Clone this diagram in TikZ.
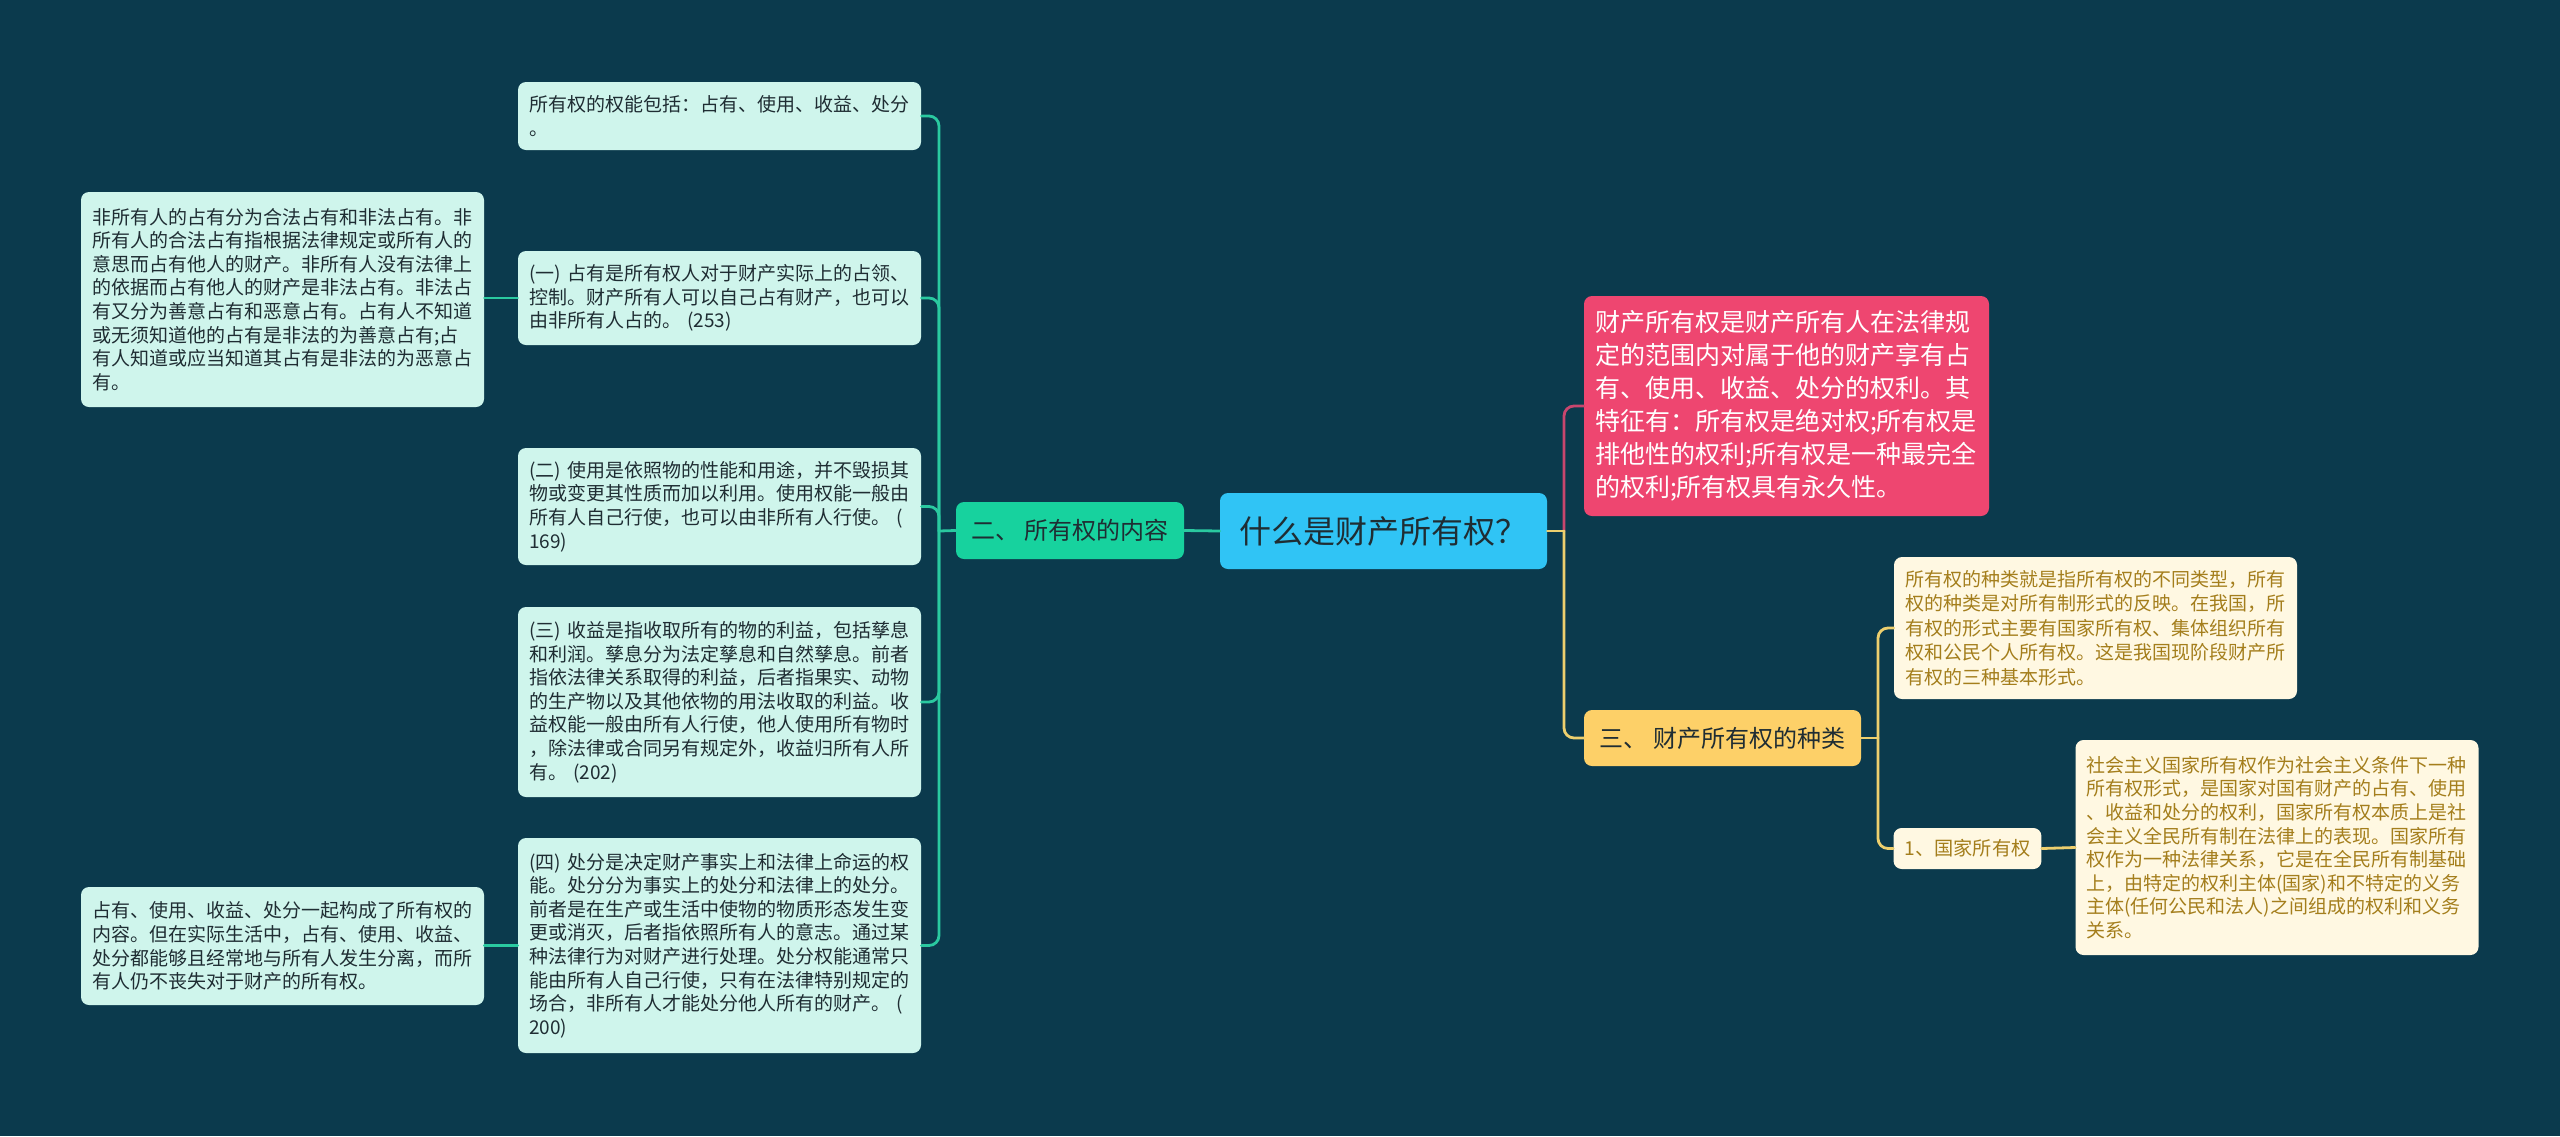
\documentclass[tikz,border=0pt]{standalone}
\usepackage{fontspec}
\setmainfont{Noto Sans CJK SC}
\usepackage{tikz}

\definecolor{bgnavy}{HTML}{0B3A4D}
\definecolor{rootblue}{HTML}{30C4F5}
\definecolor{branchteal}{HTML}{17D29E}
\definecolor{leafmint}{HTML}{CFF5EC}
\definecolor{linkteal}{HTML}{2AC9A0}
\definecolor{rosered}{HTML}{EE4670}
\definecolor{linkrose}{HTML}{C8466E}
\definecolor{branchgold}{HTML}{FDD068}
\definecolor{leafcream}{HTML}{FFF8E2}
\definecolor{linkgold}{HTML}{EDCF6E}
\definecolor{goldtext}{HTML}{A47E1C}
\definecolor{inkdark}{HTML}{1F2D33}

\begin{document}
\begin{tikzpicture}[
    x=0.5pt, y=-0.5pt,
    box/.style={
        rectangle,
        rounded corners=4pt,
        fill=#1,
        inner xsep=5.5pt,
        inner ysep=0pt
    },
    leaf/.style={
        box=#1,
        align=left,
        text width=190.5pt,
        font=\fontsize{9.5}{11.8}\selectfont
    },
    topic/.style={
        box=#1,
        align=center,
        text=inkdark
    },
    link/.style={draw=#1,line width=1.4pt,line cap=round},
    hook/.style={link=#1,rounded corners=5pt}
]

% Background
\fill[bgnavy] (0,0) rectangle (2560,1136);

% Root
\node[topic=rootblue,minimum width=163.5pt,minimum height=38pt,font=\fontsize{16}{19}\selectfont] (root) at (1383.5,531) {什么是财产所有权？};

% Left branch: content of ownership
\node[topic=branchteal,minimum width=114pt,minimum height=28.5pt,font=\fontsize{12}{14}\selectfont] (content) at (1070,530.5) {二、 所有权的内容};

\node[leaf=leafmint,text=inkdark,minimum height=34pt] (powers) at (719.5,116) {所有权的权能包括：占有、使用、收益、处分\\。};
\node[leaf=leafmint,text=inkdark,minimum height=47pt] (possess) at (719.5,298) {(一) 占有是所有权人对于财产实际上的占领、\\控制。财产所有人可以自己占有财产，也可以\\由非所有人占的。 (253)};
\node[leaf=leafmint,text=inkdark,minimum height=58.5pt] (use) at (719.5,506.5) {(二) 使用是依照物的性能和用途，并不毁损其\\物或变更其性质而加以利用。使用权能一般由\\所有人自己行使，也可以由非所有人行使。 (\\169)};
\node[leaf=leafmint,text=inkdark,minimum height=95pt] (yield) at (719.5,702) {(三) 收益是指收取所有的物的利益，包括孳息\\和利润。孳息分为法定孳息和自然孳息。前者\\指依法律关系取得的利益，后者指果实、动物\\的生产物以及其他依物的用法收取的利益。收\\益权能一般由所有人行使，他人使用所有物时\\，除法律或合同另有规定外，收益归所有人所\\有。 (202)};
\node[leaf=leafmint,text=inkdark,minimum height=107.5pt] (dispose) at (719.5,945.5) {(四) 处分是决定财产事实上和法律上命运的权\\能。处分分为事实上的处分和法律上的处分。\\前者是在生产或生活中使物的物质形态发生变\\更或消灭，后者指依照所有人的意志。通过某\\种法律行为对财产进行处理。处分权能通常只\\能由所有人自己行使，只有在法律特别规定的\\场合，非所有人才能处分他人所有的财产。 (\\200)};

\node[leaf=leafmint,text=inkdark,minimum height=107.5pt] (nonowner) at (282.5,299.5) {非所有人的占有分为合法占有和非法占有。非\\所有人的合法占有指根据法律规定或所有人的\\意思而占有他人的财产。非所有人没有法律上\\的依据而占有他人的财产是非法占有。非法占\\有又分为善意占有和恶意占有。占有人不知道\\或无须知道他的占有是非法的为善意占有;占\\有人知道或应当知道其占有是非法的为恶意占\\有。};
\node[leaf=leafmint,text=inkdark,minimum height=59pt] (together) at (282.5,946) {占有、使用、收益、处分一起构成了所有权的\\内容。但在实际生活中，占有、使用、收益、\\处分都能够且经常地与所有人发生分离，而所\\有人仍不丧失对于财产的所有权。};

% Right branch: definition
\node[box=rosered,align=left,text=white,text width=191.5pt,minimum height=110pt,font=\fontsize{12.5}{16.5}\selectfont] (defn) at (1786.5,406) {财产所有权是财产所有人在法律规\\定的范围内对属于他的财产享有占\\有、使用、收益、处分的权利。其\\特征有：所有权是绝对权;所有权是\\排他性的权利;所有权是一种最完全\\的权利;所有权具有永久性。};

% Right branch: kinds of ownership
\node[topic=branchgold,minimum width=138.5pt,minimum height=28pt,font=\fontsize{12}{14}\selectfont] (kinds) at (1722.5,738) {三、 财产所有权的种类};

\node[leaf=leafcream,text=goldtext,minimum height=71pt,font=\fontsize{9.5}{12.2}\selectfont] (kindsdesc) at (2095.5,628) {所有权的种类就是指所有权的不同类型，所有\\权的种类是对所有制形式的反映。在我国，所\\有权的形式主要有国家所有权、集体组织所有\\权和公民个人所有权。这是我国现阶段财产所\\有权的三种基本形式。};
\node[box=leafcream,text=goldtext,minimum width=73.5pt,minimum height=20.5pt,font=\fontsize{9.6}{11.5}\selectfont] (state) at (1967.5,848.5) {1、国家所有权};
\node[leaf=leafcream,text=goldtext,minimum height=107.5pt] (statedesc) at (2277,847.5) {社会主义国家所有权作为社会主义条件下一种\\所有权形式，是国家对国有财产的占有、使用\\、收益和处分的权利，国家所有权本质上是社\\会主义全民所有制在法律上的表现。国家所有\\权作为一种法律关系，它是在全民所有制基础\\上，由特定的权利主体(国家)和不特定的义务\\主体(任何公民和法人)之间组成的权利和义务\\关系。};

% Bus points
\coordinate (lbus) at (939,531);
\coordinate (rbus) at (1564,531);
\coordinate (kbus) at (1878,738);

% Left connectors
\draw[link=linkteal] (root.west) -- (content.east);
\draw[link=linkteal] (content.west) -- (lbus);
\foreach \n in {powers,possess,use,yield,dispose}
    \draw[hook=linkteal] (lbus) |- (\n.east);
\draw[link=linkteal] (possess.west) -- (possess.west -| nonowner.east);
\draw[link=linkteal] (dispose.west) -- (dispose.west -| together.east);

% Right connectors
\draw[hook=linkrose] (rbus) |- (defn.west);
\draw[hook=linkgold] (rbus) |- (kinds.west);
\draw[link=linkgold] (root.east) -- (rbus);
\draw[link=linkgold] (kinds.east) -- (kbus);
\draw[hook=linkgold] (kbus) |- (kindsdesc.west);
\draw[hook=linkgold] (kbus) |- (state.west);
\draw[link=linkgold] (state.east) -- (statedesc.west);

\end{tikzpicture}
\end{document}
